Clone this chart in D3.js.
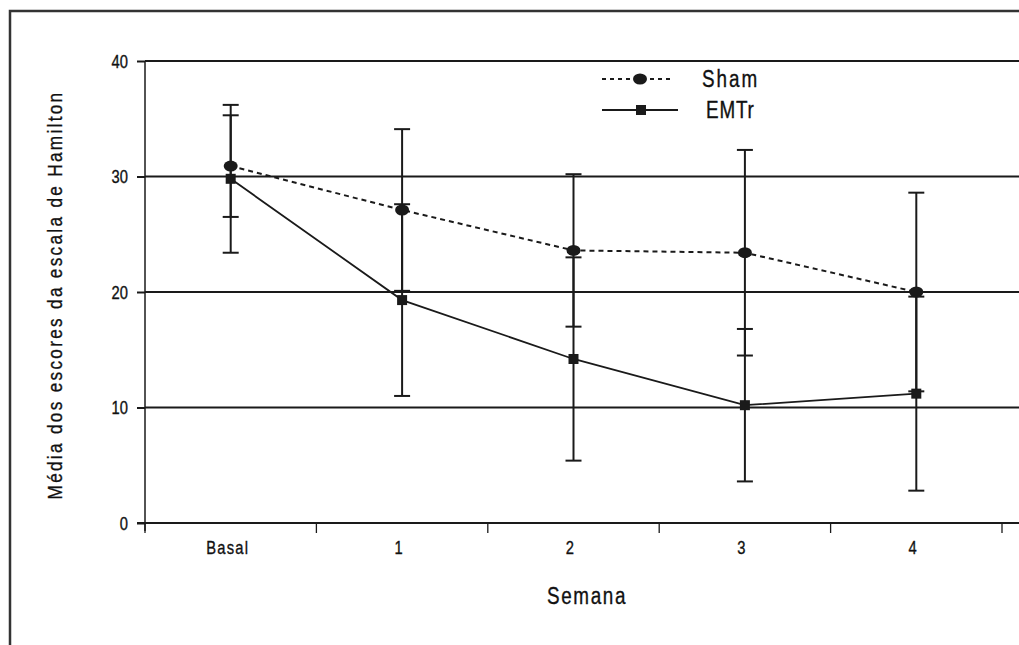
<!DOCTYPE html>
<html>
<head>
<meta charset="utf-8">
<script src="https://cdn.jsdelivr.net/npm/d3@7"></script>
<style>
  html, body { margin: 0; padding: 0; background: #fff; }
  svg { display: block; }
  text { font-family: "Liberation Sans", Arial, sans-serif; fill: #111; stroke: #111; stroke-width: 0.35px; }
</style>
</head>
<body>
<svg id="chart" width="1019" height="645"></svg>
<script>
var categories = ['Basal', '1', '2', '3', '4'];
var yTicks = [0, 10, 20, 30, 40];
var shamMean = [30.9, 27.1, 23.6, 23.4, 20.0];
var shamSD = [4.4, 7.0, 6.6, 8.9, 8.6];
var emtrMean = [29.8, 19.3, 14.2, 10.2, 11.2];
var emtrSD = [6.4, 8.3, 8.8, 6.6, 8.4];
var seriesNames = ['Sham', 'EMTr'];

var ink = '#1a1a1a';
var squeeze = 0.82; // fake a condensed face
var svg = d3.select('#chart');

// condensed text: glyphs squeezed horizontally around their anchor
function label(parent, tx, ty, str, size, spacing, anchor, rot) {
    var t = 'translate(' + tx + ',' + ty + ')' + (rot ? ' rotate(' + rot + ')' : '') +
        ' scale(' + squeeze + ',1)';
    return parent.append('text')
        .attr('transform', t)
        .attr('text-anchor', anchor || 'start')
        .style('font-size', size + 'px')
        .style('letter-spacing', spacing + 'px')
        .text(str);
}

// outer frame (cropped on the right and bottom)
svg.append('rect')
    .attr('x', 10).attr('y', 11)
    .attr('width', 1040).attr('height', 700)
    .attr('fill', 'none')
    .attr('stroke', '#333')
    .attr('stroke-width', 2.5);

var x = d3.scaleBand().domain(categories).range([145, 1002]);
var y = d3.scaleLinear().domain([0, 40]).range([523, 61]);

// gridlines
svg.append('g').selectAll('line')
    .data(yTicks.slice(1))
    .join('line')
    .attr('x1', 145).attr('x2', 1019)
    .attr('y1', function (d) { return y(d); })
    .attr('y2', function (d) { return y(d); })
    .attr('stroke', ink).attr('stroke-width', 2);

// y axis ticks
var yAxis = svg.append('g')
    .attr('transform', 'translate(145,0)')
    .call(d3.axisLeft(y).tickValues(yTicks).tickSize(8).tickFormat(''));
yAxis.select('.domain').remove();
yAxis.selectAll('.tick line').attr('stroke', ink).attr('stroke-width', 2);

var yLab = svg.append('g');
yTicks.forEach(function (v) {
    label(yLab, 128, y(v) + 6.5, String(v), 18, 0, 'end');
});

svg.append('line')
    .attr('x1', 145).attr('x2', 145)
    .attr('y1', y(40)).attr('y2', 531)
    .attr('stroke', ink).attr('stroke-width', 1.5);

// x axis
svg.append('line')
    .attr('x1', 137).attr('x2', 1019)
    .attr('y1', y(0)).attr('y2', y(0))
    .attr('stroke', ink).attr('stroke-width', 2);

var bounds = categories.map(function (c) { return x(c); }).concat([x.range()[1]]);
svg.append('g').selectAll('line')
    .data(bounds)
    .join('line')
    .attr('x1', function (d) { return d; })
    .attr('x2', function (d) { return d; })
    .attr('y1', y(0)).attr('y2', y(0) + 10)
    .attr('stroke', ink).attr('stroke-width', 1.3);

var xLab = svg.append('g');
categories.forEach(function (c) {
    label(xLab, x(c) + x.bandwidth() / 2 - 3, 554, c, 18, 1.5, 'middle');
});

// axis titles
label(svg, 587, 604, 'Semana', 23, 2, 'middle');
label(svg, 62, 295, 'Média dos escores da escala de Hamilton', 21, 2.8, 'middle', -90);

function cx(i) { return x(categories[i]) + x.bandwidth() / 2; }

function errorBars(mean, sd) {
    var g = svg.append('g').attr('stroke', ink).attr('stroke-width', 2);
    mean.forEach(function (m, i) {
        var top = y(m + sd[i]);
        var bot = y(m - sd[i]);
        g.append('line').attr('x1', cx(i)).attr('x2', cx(i)).attr('y1', top).attr('y2', bot);
        g.append('line').attr('x1', cx(i) - 8).attr('x2', cx(i) + 8).attr('y1', top).attr('y2', top);
        g.append('line').attr('x1', cx(i) - 8).attr('x2', cx(i) + 8).attr('y1', bot).attr('y2', bot);
    });
}
errorBars(shamMean, shamSD);
errorBars(emtrMean, emtrSD);

var line = d3.line()
    .x(function (d, i) { return cx(i); })
    .y(function (d) { return y(d); });

svg.append('path')
    .datum(shamMean)
    .attr('d', line)
    .attr('fill', 'none')
    .attr('stroke', ink)
    .attr('stroke-width', 2)
    .attr('stroke-dasharray', '5,4');

svg.append('path')
    .datum(emtrMean)
    .attr('d', line)
    .attr('fill', 'none')
    .attr('stroke', ink)
    .attr('stroke-width', 1.8);

svg.append('g').selectAll('ellipse')
    .data(shamMean)
    .join('ellipse')
    .attr('cx', function (d, i) { return cx(i); })
    .attr('cy', function (d) { return y(d); })
    .attr('rx', 7).attr('ry', 5.5)
    .attr('fill', ink);

svg.append('g').selectAll('rect')
    .data(emtrMean)
    .join('rect')
    .attr('x', function (d, i) { return cx(i) - 5; })
    .attr('y', function (d) { return y(d) - 5; })
    .attr('width', 10).attr('height', 10)
    .attr('fill', ink);

// legend
var legend = svg.append('g');
var legendY = [79, 110];
legend.append('line')
    .attr('x1', 602).attr('x2', 673)
    .attr('y1', legendY[0]).attr('y2', legendY[0])
    .attr('stroke', ink).attr('stroke-width', 2)
    .attr('stroke-dasharray', '4,4');
legend.append('ellipse')
    .attr('cx', 640).attr('cy', legendY[0])
    .attr('rx', 7).attr('ry', 5.5)
    .attr('fill', ink);
legend.append('line')
    .attr('x1', 602).attr('x2', 678)
    .attr('y1', legendY[1]).attr('y2', legendY[1])
    .attr('stroke', ink).attr('stroke-width', 1.8);
legend.append('rect')
    .attr('x', 636).attr('y', legendY[1] - 5)
    .attr('width', 10).attr('height', 10)
    .attr('fill', ink);
seriesNames.forEach(function (s, i) {
    label(legend, i === 0 ? 702 : 706, legendY[i] + 8, s, 23, i === 0 ? 2.4 : 1, 'start');
});
</script>
</body>
</html>
